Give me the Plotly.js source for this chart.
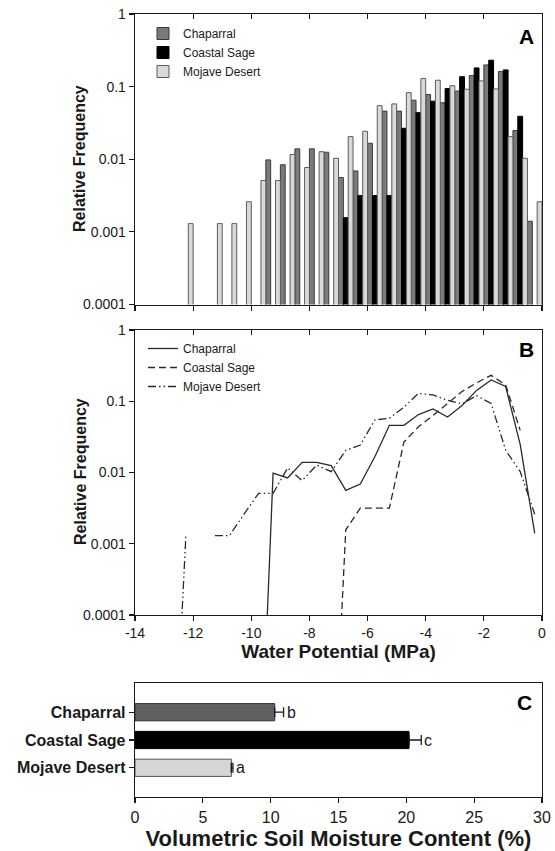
<!DOCTYPE html>
<html><head><meta charset="utf-8">
<script src="https://cdn.plot.ly/plotly-3.0.1.min.js"></script>
<style>html,body{margin:0;padding:0;background:#fff}#chart{width:555px;height:851px}</style>
</head><body><div id="chart"></div>
<script>
// ---- data ----
const binCenters = [-12.25,-11.75,-11.25,-10.75,-10.25,-9.75,-9.25,-8.75,-8.25,-7.75,-7.25,-6.75,-6.25,-5.75,-5.25,-4.75,-4.25,-3.75,-3.25,-2.75,-2.25,-1.75,-1.25,-0.75,-0.25];
const chaparral = [null,null,null,null,null,null,0.0098,0.0084,0.0139,0.0139,0.0125,0.0056,0.0069,0.0166,0.046,0.046,0.065,0.078,0.060,0.087,0.142,0.199,0.161,0.0248,0.0014];
const coastalSage = [null,null,null,null,null,null,null,null,null,null,null,0.00157,0.00316,0.00316,0.00316,0.0267,0.0438,0.063,0.094,0.137,0.181,0.231,0.170,0.039,null];
const mojaveDesert = [0.0013,null,0.0013,0.0013,0.0026,0.0051,0.0051,0.0116,0.0077,0.0127,0.0103,0.0205,0.0243,0.0547,0.0578,0.0826,0.129,0.1225,0.103,0.092,0.120,0.093,0.0205,0.0103,0.0026];
const seriesNames = ['Chaparral','Coastal Sage','Mojave Desert'];
const zeroOnLog = 1e-7;           // a zero frequency, drawn below the log axis floor
const yTickVals = [0.0001,0.001,0.01,0.1,1];
const yTickText = ['0.0001','0.001','0.01','0.1','1'];
const xTickVals = [-14,-12,-10,-8,-6,-4,-2,0];
const xTickText = ['-14','-12','-10','-8','-6','-4','-2','0'];
const sites = ['Chaparral','Coastal Sage','Mojave Desert'];
const moisture = [10.3,20.2,7.1];
const moistureErr = [0.65,0.9,0.12];
const sigLetters = ['b','c','a'];
const cTickVals = [0,5,10,15,20,25,30];

// ---- styles ----
const FONT = 'Liberation Sans, Arial, Helvetica, sans-serif';
const INK = '#1a1a1a';
const barFill = ['#7a7a7a','#000000','#d9d9d9'];
const barLine = ['#3a3a3a','#000000','#5c5c5c'];
const lineDash = ['solid','7px,4px','8px,3px,1.5px,3px,1.5px,3px'];
const cFill = ['#606060','#000000','#d6d6d6'];
const cLine = ['#333333','#000000','#555555'];

const binStep = binCenters[1]-binCenters[0];
function lineSeries(vals){
  const xs=[], ys=[]; let started=false;
  vals.forEach((v,i)=>{
    if(v==null){ if(started){xs.push(binCenters[i]); ys.push(null);} return; }
    if(!started){ xs.push(binCenters[i]-binStep); ys.push(zeroOnLog); started=true; }
    xs.push(binCenters[i]); ys.push(v);
  });
  return {x:xs,y:ys};
}

const all = [chaparral, coastalSage, mojaveDesert];
const traces = [];
all.forEach((vals,k)=>{
  traces.push({type:'bar', x:binCenters, y:vals, name:seriesNames[k], xaxis:'x', yaxis:'y',
    marker:{color:barFill[k], line:{color:barLine[k], width:1}}, legend:'legend'});
});
all.forEach((vals,k)=>{
  const s = lineSeries(vals);
  traces.push({type:'scatter', mode:'lines', x:s.x, y:s.y, name:seriesNames[k], xaxis:'x2', yaxis:'y2',
    line:{color:'#2a2a2a', width:1.3, dash:lineDash[k]}, connectgaps:false, legend:'legend2'});
});
traces.push({type:'bar', orientation:'h', x:moisture, y:sites, xaxis:'x3', yaxis:'y3', width:0.62,
  marker:{color:cFill, line:{color:cLine, width:1}}, showlegend:false,
  error_x:{type:'data', symmetric:false, array:moistureErr, arrayminus:moisture.map(()=>0), color:INK, thickness:1.3, width:5}});
// invisible traces that carry the inward top tick axes
traces.push({type:'scatter', x:[], y:[], xaxis:'x4', yaxis:'y', showlegend:false, hoverinfo:'skip'});
traces.push({type:'scatter', x:[], y:[], xaxis:'x5', yaxis:'y2', showlegend:false, hoverinfo:'skip'});

const W=555, H=851;
const px = v => v/W, py = v => 1 - v/H;
const XD = [px(135), px(542)];
const axBase = {showgrid:false, zeroline:false, showline:true, linecolor:INK, linewidth:1.3, mirror:true,
  ticks:'outside', ticklen:5, tickwidth:1.2, tickcolor:INK, tickfont:{family:FONT, size:14, color:INK}};
const logY = Object.assign({}, axBase, {type:'log', range:[-4,0], tickvals:yTickVals, ticktext:yTickText});
const topTicks = {side:'top', range:[-14,0], tickvals:xTickVals, ticks:'inside', ticklen:5, tickwidth:1.2, tickcolor:INK, showticklabels:false, showline:false, showgrid:false, zeroline:false};

const annotations = [
  {text:'<b>A</b>', x:px(536), y:py(36), xref:'paper', yref:'paper', xanchor:'right', yanchor:'middle', showarrow:false, font:{family:FONT, size:21, color:'#000'}},
  {text:'<b>B</b>', x:px(536), y:py(350), xref:'paper', yref:'paper', xanchor:'right', yanchor:'middle', showarrow:false, font:{family:FONT, size:21, color:'#000'}},
  {text:'<b>C</b>', x:px(534), y:py(702), xref:'paper', yref:'paper', xanchor:'right', yanchor:'middle', showarrow:false, font:{family:FONT, size:21, color:'#000'}},
  {text:'<b>Relative Frequency</b>', x:px(80), y:py(159), xref:'paper', yref:'paper', xanchor:'center', yanchor:'middle', textangle:-90, showarrow:false, font:{family:FONT, size:16, color:INK}},
  {text:'<b>Relative Frequency</b>', x:px(80), y:py(472), xref:'paper', yref:'paper', xanchor:'center', yanchor:'middle', textangle:-90, showarrow:false, font:{family:FONT, size:16, color:INK}}
];
sites.forEach((s,i)=>{
  annotations.push({text:sigLetters[i], x:moisture[i]+moistureErr[i], y:s, xref:'x3', yref:'y3', xanchor:'left', yanchor:'middle', xshift:1, showarrow:false, font:{family:FONT, size:16, color:INK}});
});

const layout = {
  width:W, height:H, margin:{l:0,r:0,t:0,b:0}, paper_bgcolor:'#fff', plot_bgcolor:'#fff',
  font:{family:FONT, color:INK},
  barmode:'group', bargap:0, bargroupgap:0,
  xaxis: Object.assign({}, axBase, {domain:XD, anchor:'y', range:[-14,0], tickvals:xTickVals, showticklabels:false}),
  yaxis: Object.assign({}, logY, {domain:[py(304.5), py(14)], anchor:'x'}),
  xaxis4: Object.assign({overlaying:'x', anchor:'y'}, topTicks),
  xaxis2: Object.assign({}, axBase, {domain:XD, anchor:'y2', range:[-14,0], tickvals:xTickVals, ticktext:xTickText,
    title:{text:'<b>Water Potential (MPa)</b>', font:{family:FONT, size:19, color:INK}, standoff:3}}),
  yaxis2: Object.assign({}, logY, {domain:[py(615), py(330)], anchor:'x2'}),
  xaxis5: Object.assign({overlaying:'x2', anchor:'y2'}, topTicks),
  xaxis3: Object.assign({}, axBase, {domain:XD, anchor:'y3', range:[0,30], tickvals:cTickVals, tickfont:{family:FONT, size:16, color:INK},
    title:{text:'<b>Volumetric Soil Moisture Content (%)</b>', font:{family:FONT, size:22, color:INK}, standoff:2}}),
  yaxis3: Object.assign({}, axBase, {domain:[py(797), py(683)], anchor:'x3', type:'category', range:[3.05,-1.05],
    tickfont:{family:FONT, size:16, color:INK, weight:'bold'}}),
  legend: {x:px(143), y:py(19), xanchor:'left', yanchor:'top', bgcolor:'rgba(0,0,0,0)', font:{family:FONT, size:12, color:INK}, tracegroupgap:0, itemwidth:30},
  legend2: {x:px(143), y:py(334), xanchor:'left', yanchor:'top', bgcolor:'rgba(0,0,0,0)', font:{family:FONT, size:12, color:INK}, tracegroupgap:0, itemwidth:30},
  annotations: annotations
};
Plotly.newPlot('chart', traces, layout, {staticPlot:true, displayModeBar:false});
</script></body></html>
